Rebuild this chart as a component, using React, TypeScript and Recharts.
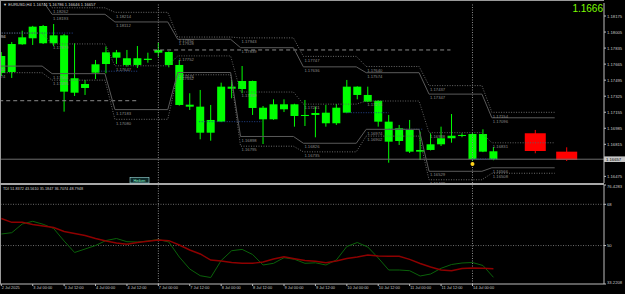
import React from 'react';
import { ComposedChart, Bar, Line, Scatter, XAxis, YAxis, ReferenceLine } from 'recharts';

const FONT = 'Liberation Sans, Arial, sans-serif';

// ---- Candles (H4), slots 0..47 ----
const candleOpen = [1.17751,1.17581,1.17875,1.17939,1.18069,1.17886,1.17970,1.17362,1.17454,1.17574,1.17666,1.17790,1.17727,1.17656,1.17722,1.17786,1.17793,1.17656,1.17235,1.17214,1.16938,1.17055,1.17426,1.17401,1.17486,1.17203,1.17080,1.17239,1.17239,1.17115,1.17126,1.17150,1.17038,1.17150,1.17426,1.17338,1.17277,1.17055,1.16850,1.16967,1.16737,1.16755,1.16815,1.16879,1.16906,1.16924,1.16924,1.16741];
const candleHigh = [1.17793,1.17899,1.18019,1.18070,1.18080,1.18090,1.17984,1.17886,1.17497,1.17709,1.17850,1.17815,1.17815,1.17857,1.17786,1.17892,1.17800,1.17709,1.17356,1.17391,1.17232,1.17468,1.17497,1.17645,1.17490,1.17221,1.17292,1.17292,1.17245,1.17285,1.17214,1.17232,1.17242,1.17497,1.17430,1.17426,1.17282,1.17126,1.17020,1.17073,1.16949,1.16932,1.17002,1.17136,1.16932,1.16945,1.16974,1.16786];
const candleLow = [1.17539,1.17518,1.17870,1.17868,1.17878,1.17857,1.17161,1.17327,1.17338,1.17507,1.17568,1.17666,1.17638,1.17624,1.17680,1.17744,1.17631,1.17225,1.17179,1.16868,1.16853,1.17050,1.17303,1.17356,1.17126,1.16818,1.17075,1.17157,1.17002,1.17009,1.16889,1.17002,1.17020,1.17145,1.17292,1.17262,1.17002,1.16620,1.16808,1.16723,1.16649,1.16750,1.16797,1.16832,1.16890,1.16638,1.16732,1.16646];
const candleClose = [1.17571,1.17878,1.17949,1.18062,1.17886,1.17970,1.17373,1.17515,1.17412,1.17663,1.17790,1.17733,1.17656,1.17727,1.17709,1.17815,1.17656,1.17232,1.17214,1.16938,1.17073,1.17426,1.17404,1.17486,1.17200,1.17080,1.17239,1.17186,1.17115,1.17126,1.17147,1.17038,1.17203,1.17426,1.17338,1.17267,1.17055,1.16843,1.16985,1.16737,1.16755,1.16815,1.16879,1.16906,1.16914,1.16659,1.16737,1.16657];

// projected (red) candles
const projSlots = [51, 54];
const projOpen = [1.16932, 1.16737];
const projHigh = [1.16967, 1.16783];
const projLow = [1.16720, 1.16638];
const projClose = [1.16744, 1.16649];

// ---- Daily levels ----
const daySlots = [-1, 5, 11, 17, 23, 29, 35, 41, 47];
const upperOuter = [1.18414, 1.18262, 1.18214, 1.17952, 1.17943, 1.17747, 1.17640, 1.17437, 1.17154];
const upperInner = [1.18344, 1.18193, 1.18112, 1.17928, 1.17839, 1.17636, 1.17574, 1.17347, 1.17096];
const midLevel = [1.17994, 1.17879, 1.17647, 1.17752, 1.17369, 1.17241, 1.17274, 1.16938, 1.16831];
const lowerInner = [1.17644, 1.17564, 1.17183, 1.17576, 1.16898, 1.16826, 1.16974, 1.16529, 1.16566];
const lowerOuter = [1.17574, 1.17495, 1.17080, 1.17552, 1.16795, 1.16735, 1.16902, 1.16439, 1.16508];

// blue dotted segments
const blueStart = [-0.2, 9.3, 18.9, 32.9, 37.0, 45.0];
const blueEnd = [6.9, 13.0, 24.9, 37.0, 40.3, 47.4];
const bluePrice = [1.17994, 1.17590, 1.17055, 1.17150, 1.16975, 1.16659];

// gray dashed segments
const dashStart = [14.5, -0.2];
const dashEnd = [42.9, 13.0];
const dashPrice = [1.17815, 1.17277];

const bidPrice = 1.16657;
const markerSlot = 45;
const markerPrice = 1.16606;

const priceTicks = [1.18175, 1.18005, 1.17835, 1.17665, 1.17495, 1.17325, 1.17155, 1.16985, 1.16815, 1.16475];

// ---- TDI ----
const tdiGreen = [55.04,55.61,59.41,60.59,59.28,57.44,51.99,46.97,48.49,50.02,52.2,53.08,51.68,51.55,51.99,52.64,51.55,45,39.76,36.84,36.05,43.47,47.75,48.32,46.09,41.51,42.25,44.7,44,42.25,42.47,41.51,43.69,49.59,51.33,49.37,44.57,39.33,39.33,39.02,36.71,37.58,40.07,41.73,42.38,42.6,41.29,36.14];
const tdiRed = [61.81,60.15,60.15,59.19,58.53,57.88,56.13,55.26,54.39,53.08,51.99,51.11,50.55,51.33,51.86,52.42,52.12,50.24,48.06,46.31,43.69,43.26,42.6,42.25,42.25,42.82,44.13,45.13,44.26,43.47,43.13,42.51,43.26,44.35,45,45.88,45.44,45.31,45.31,44,42.17,40.64,39.33,39.02,39.98,40.2,40.11,39.9];
const tdiTicks = [76.4283, 68, 50, 33.2208];
const tdiMax = 76.4283;
const tdiMin = 33.2208;

const timeTickSlots = [0, 3, 6, 9, 12, 15, 18, 21, 24, 27, 30, 33, 36, 39, 42, 45];
const timeTickLabels = ['2 Jul 2025', '3 Jul 00:00', '3 Jul 12:00', '4 Jul 00:00', '4 Jul 12:00', '7 Jul 00:00', '7 Jul 12:00', '8 Jul 00:00', '8 Jul 12:00', '9 Jul 00:00', '9 Jul 12:00', '10 Jul 00:00', '10 Jul 12:00', '11 Jul 00:00', '11 Jul 12:00', '14 Jul 00:00'];
const weekSlots = [15, 45];

const X_DOMAIN: [number, number] = [-0.124, 57.56];
const Y_DOMAIN: [number, number] = [1.164048, 1.183128];

// ---- derived tables ----
const candles = candleOpen.map((o, i) => ({
  x: i, o, h: candleHigh[i], l: candleLow[i], c: candleClose[i], range: [candleLow[i], candleHigh[i]], red: false,
}));
const projected = projSlots.map((s, i) => ({
  x: s, o: projOpen[i], h: projHigh[i], l: projLow[i], c: projClose[i], range: [projLow[i], projHigh[i]], red: true,
}));
const candleData = [...candles, ...projected];

const stepPath = (prices: number[]) =>
  daySlots.flatMap((d, k) => [
    { x: d - 0.15, p: prices[k] },
    { x: d + (k === daySlots.length - 1 ? 5.85 : 4.9), p: prices[k] },
  ]);

const levelSeries = [
  { key: 'uo', prices: upperOuter, dash: '1 1.5', color: '#6a6a6a' },
  { key: 'ui', prices: upperInner, dash: undefined, color: '#5a5a5a' },
  { key: 'mid', prices: midLevel, dash: '1 1.5', color: '#5f5f5f' },
  { key: 'li', prices: lowerInner, dash: undefined, color: '#5a5a5a' },
  { key: 'lo', prices: lowerOuter, dash: '1 1.5', color: '#6a6a6a' },
];

const levelLabels = levelSeries
  .flatMap((s) => daySlots.map((d, k) => ({ x: d - 0.15, p: s.prices[k], t: s.prices[k].toFixed(5) })))
  .filter((l) => l.p < Y_DOMAIN[1] - 0.0003);
const extraLabels = [
  { x: blueStart[0] - 0.9, p: bluePrice[0], t: bluePrice[0].toFixed(5) },
];
const allLabels = [...levelLabels, ...extraLabels];

const tdiData = tdiGreen.map((g, i) => ({ x: i, g, r: tdiRed[i] }));

// ---- shapes ----
const CandleShape = (props: any) => {
  const { x, y, width, height, payload } = props;
  if (!payload) return null;
  const { o, h, l, c, red } = payload;
  const top = Math.min(y, y + height);
  const hh = Math.abs(height);
  const py = (p: number) => top + ((h - p) / (h - l)) * hh;
  const cx = x + width / 2;
  const bw = red ? 21 : 8;
  const bt = py(Math.max(o, c));
  const bb = py(Math.min(o, c));
  const color = red ? '#ff0000' : '#00ff00';
  return (
    <g>
      <line x1={cx} x2={cx} y1={top} y2={top + hh} stroke={color} strokeWidth={1} />
      <rect x={cx - bw / 2} y={bt} width={bw} height={Math.max(1, bb - bt)} fill={color} />
    </g>
  );
};

const LabelShape = (props: any) => {
  const { cx, cy, payload } = props;
  if (cx == null || cy == null) return null;
  return (
    <text x={cx + 1} y={cy + 5.2} fontSize={4.2} fill="#8c8c8c" fontFamily={FONT}>
      {payload.t}
    </text>
  );
};

const MarkerShape = (props: any) => {
  const { cx, cy } = props;
  return <circle cx={cx} cy={cy} r={2} fill="#ffd21a" />;
};

const PriceTick = (props: any) => {
  const { x, y, payload } = props;
  return (
    <text x={x} y={y + 1.5} fontSize={4.2} fill="#c8c8c8" fontFamily={FONT} textAnchor="start">
      {Number(payload.value).toFixed(5)}
    </text>
  );
};

const TdiTick = (props: any) => {
  const { x, y, payload } = props;
  const v = Number(payload.value);
  const txt = Number.isInteger(v) ? String(v) : v.toFixed(4);
  const dy = v === tdiMax ? 3 : v === tdiMin ? -0.5 : 1.5;
  return (
    <text x={x} y={y + dy} fontSize={4.2} fill="#c8c8c8" fontFamily={FONT} textAnchor="start">
      {txt}
    </text>
  );
};

const TimeTick = (props: any) => {
  const { x, y, payload } = props;
  const idx = timeTickSlots.indexOf(Number(payload.value));
  return (
    <text x={x + 0.5} y={y + 3} fontSize={3.9} fill="#c8c8c8" fontFamily={FONT} textAnchor="start">
      {timeTickLabels[idx]}
    </text>
  );
};

const BidLabel = (props: any) => {
  const vb = props.viewBox || {};
  const right = (vb.x || 0) + (vb.width || 0);
  const yy = vb.y || 0;
  return (
    <g>
      <rect x={right} y={yy - 2.8} width={21} height={5.6} fill="#c8c8c8" />
      <text x={right + 2} y={yy + 1.5} fontSize={4.2} fill="#000" fontFamily={FONT}>
        {bidPrice.toFixed(5)}
      </text>
    </g>
  );
};

export default function App() {
  return (
    <div style={{ position: 'absolute', left: 0, top: 0, width: 625, height: 294, background: '#000', overflow: 'hidden' }}>
      <div style={{ position: 'absolute', left: 0, top: 0 }}>
        <ComposedChart width={625} height={184} data={candleData} margin={{ top: 3, right: 0, bottom: 1, left: 0 }}>
          <XAxis dataKey="x" type="number" domain={X_DOMAIN} allowDataOverflow hide />
          <YAxis
            orientation="right"
            type="number"
            width={21}
            domain={Y_DOMAIN}
            allowDataOverflow
            ticks={priceTicks}
            interval={0}
            tick={<PriceTick />}
            tickSize={2}
            tickMargin={1}
            axisLine={{ stroke: '#bdbdbd' }}
            tickLine={{ stroke: '#bdbdbd' }}
          />
          {weekSlots.map((s) => (
            <ReferenceLine key={'w' + s} x={s} stroke="#8a8a8a" strokeDasharray="1 1.5" />
          ))}
          <ReferenceLine y={bidPrice} stroke="#6e6e6e" label={<BidLabel />} />
          {dashPrice.map((p, i) => (
            <Line
              key={'d' + i}
              data={[{ x: dashStart[i], p }, { x: dashEnd[i], p }]}
              dataKey="p"
              stroke="#8a8a8a"
              strokeDasharray="4 3"
              strokeWidth={1}
              dot={false}
              isAnimationActive={false}
            />
          ))}
          {bluePrice.map((p, i) => (
            <Line
              key={'b' + i}
              data={[{ x: blueStart[i], p }, { x: blueEnd[i], p }]}
              dataKey="p"
              stroke="#24438c"
              strokeDasharray="1 1.5"
              strokeWidth={1}
              dot={false}
              isAnimationActive={false}
            />
          ))}
          {levelSeries.map((s) => (
            <Line
              key={s.key}
              data={stepPath(s.prices)}
              dataKey="p"
              stroke={s.color}
              strokeDasharray={s.dash}
              strokeWidth={1}
              dot={false}
              isAnimationActive={false}
            />
          ))}
          <Scatter data={allLabels} dataKey="p" shape={<LabelShape />} isAnimationActive={false} />
          <Bar dataKey="range" barSize={8} shape={<CandleShape />} isAnimationActive={false} />
          <Scatter data={[{ x: markerSlot, p: markerPrice }]} dataKey="p" shape={<MarkerShape />} isAnimationActive={false} />
        </ComposedChart>
      </div>
      <div style={{ position: 'absolute', left: 0, top: 184 }}>
        <ComposedChart width={625} height={110} data={tdiData} margin={{ top: 1, right: 0, bottom: 0, left: 0 }}>
          <XAxis
            dataKey="x"
            type="number"
            domain={X_DOMAIN}
            allowDataOverflow
            ticks={timeTickSlots}
            interval={0}
            height={10}
            tick={<TimeTick />}
            tickSize={2}
            tickMargin={0}
            axisLine={{ stroke: '#bdbdbd' }}
            tickLine={{ stroke: '#bdbdbd' }}
          />
          <YAxis
            orientation="right"
            type="number"
            width={21}
            domain={[tdiMin, tdiMax]}
            allowDataOverflow
            ticks={tdiTicks}
            interval={0}
            tick={<TdiTick />}
            tickSize={2}
            tickMargin={1}
            axisLine={{ stroke: '#bdbdbd' }}
            tickLine={{ stroke: '#bdbdbd' }}
          />
          <ReferenceLine y={68} stroke="#6a6a6a" strokeDasharray="1 1.5" />
          <ReferenceLine y={50} stroke="#6a6a6a" strokeDasharray="1 1.5" />
          {weekSlots.map((s) => (
            <ReferenceLine key={'tw' + s} x={s} stroke="#8a8a8a" strokeDasharray="1 1.5" />
          ))}
          <Line dataKey="g" stroke="#0a620a" strokeWidth={1} dot={false} isAnimationActive={false} />
          <Line dataKey="r" stroke="#8e0000" strokeWidth={1.4} dot={false} isAnimationActive={false} />
        </ComposedChart>
      </div>
      <svg width={625} height={294} style={{ position: 'absolute', left: 0, top: 0, pointerEvents: 'none' }}>
        <line x1={0} x2={604} y1={0.5} y2={0.5} stroke="#9a9a9a" />
        <line x1={0.5} x2={0.5} y1={0} y2={284} stroke="#9a9a9a" />
        <rect x={0} y={183} width={604} height={2} fill="#a8a8a8" />
        <text x={3} y={6} fontSize={4.1} fill="#d8d8d8" fontFamily={FONT}>
          {'▼ EURUSD,H4  1.16741 1.16786 1.16646 1.16657'}
        </text>
        <text x={603} y={12} fontSize={10} fill="#7cfc00" fontFamily={FONT} textAnchor="end">
          1.1666
        </text>
        <text x={3} y={189.5} fontSize={3.8} fill="#d0d0d0" fontFamily={FONT}>
          TDI 51.8372 43.5610 35.1847 36.7074 48.7948
        </text>
        <rect x={130} y={177.5} width={19} height={5.5} fill="#0c2a2a" stroke="#9fe0e0" strokeWidth={0.6} />
        <text x={139.5} y={181.8} fontSize={3.8} fill="#8fffcf" fontFamily={FONT} textAnchor="middle">
          Heiken
        </text>
      </svg>
    </div>
  );
}
